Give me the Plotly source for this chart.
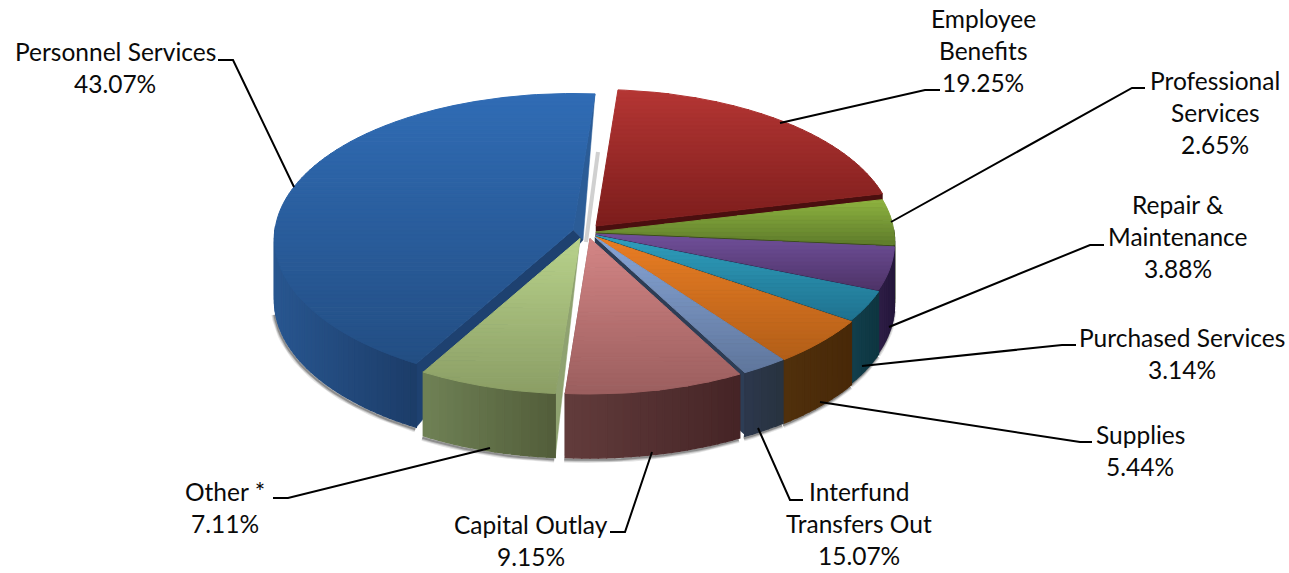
import math
import plotly.graph_objects as go

# --- data ---
categories = ["Employee Benefits", "Professional Services", "Repair & Maintenance",
              "Purchased Services", "Supplies", "Interfund Transfers Out",
              "Capital Outlay", "Other *", "Personnel Services"]
slice_share = [20.14, 5.00, 4.72, 3.33, 5.28, 2.36, 9.17, 7.08, 42.92]
printed_pct = ["19.25%", "2.65%", "3.88%", "3.14%", "5.44%", "15.07%", "9.15%", "7.11%", "43.07%"]

# --- styling and layout ---
top_light = ["#b53634", "#8eb340", "#70509a", "#2f9fbd", "#ea7e24", "#87a5d6", "#d48686", "#b8d28b", "#306cb5"]
top_dark = ["#7c1d1c", "#5f7c2b", "#4e3368", "#1f7290", "#b25e18", "#5f769c", "#9b5e5e", "#8b9e65", "#234e83"]
wall_left = ["#5a1514", "#3d4f1c", "#2e1e46", "#123f4c", "#50300c", "#2c384c", "#623c3c", "#6f8155", "#28568f"]
wall_right = ["#4a0f0f", "#33421a", "#24163a", "#0e3540", "#482808", "#28323f", "#452426", "#525d3a", "#1c3c68"]
cut_color = ["#4a0f0f", "#3b4d1c", "#2e1e46", "#123f4c", "#5a3008", "#2d3d55", "#5a3636", "#8fa270", "#2b5c97"]
centers = [(596, 226), (596, 232), (596, 234), (596, 235.5), (596, 237),
           (595, 237), (590, 238.5), (580, 238.5), (573, 230)]
START = 4.5
R = 298
DEPTH = 62
draw_order = [0, 1, 2, 3, 4, 5, 8, 6, 7]

label_lines = [["Employee", "Benefits"], ["Professional", "Services"], ["Repair &", "Maintenance"],
               ["Purchased Services"], ["Supplies"], ["Interfund", "Transfers Out"],
               ["Capital Outlay"], ["Other *"], ["Personnel Services"]]
label_x = [983, 1215, 1178, 1182, 1140, 859, 531, 225, 115]
label_y0 = [18, 80, 204, 337, 434, 491, 524, 491, 51]
LINE = 32
leaders = [[(780, 123), (925, 90), (940, 90)],
           [(891, 222), (1132, 88), (1145, 88)],
           [(889, 327), (1090, 245), (1104, 245)],
           [(862, 366), (1062, 345), (1076, 345)],
           [(820, 402), (1080, 442), (1092, 442)],
           [(758, 428), (790, 500), (803, 500)],
           [(652, 452), (625, 532), (610, 532)],
           [(490, 448), (288, 498), (273, 498)],
           [(294, 187), (233, 60), (218, 60)]]


def pt(c, deg, r=R):
    t = math.radians(deg)
    co = math.cos(t)
    return (c[0] + r * math.sin(t) * (1 - 0.06 * co), c[1] - co * (146 - 9.5 * co))


def depth(deg):
    return DEPTH - 2 * math.cos(math.radians(deg))


def hex_mix(a, b, f):
    f = max(0, min(1, f))
    ca = [int(a[i:i + 2], 16) for i in (1, 3, 5)]
    cb = [int(b[i:i + 2], 16) for i in (1, 3, 5)]
    return "#%02x%02x%02x" % tuple(round(x + (y - x) * f) for x, y in zip(ca, cb))


def clip(poly, y, keep_below):
    out = []
    for i in range(len(poly)):
        p, q = poly[i], poly[(i + 1) % len(poly)]
        pin = (p[1] >= y) == keep_below
        qin = (q[1] >= y) == keep_below
        if pin:
            out.append(p)
        if pin != qin:
            f = (y - p[1]) / (q[1] - p[1])
            out.append((p[0] + (q[0] - p[0]) * f, y))
    return out


fig = go.Figure()


def add_poly(points, color, width=1.4):
    xs = [p[0] for p in points] + [points[0][0]]
    ys = [p[1] for p in points] + [points[0][1]]
    fig.add_trace(go.Scatter(x=xs, y=ys, mode="lines", fill="toself", fillcolor=color,
                             line=dict(color=color, width=width),
                             hoverinfo="skip", showlegend=False))


# angle span of each slice
spans = []
a = START
for v in slice_share:
    spans.append((a, a + v * 3.6))
    a += v * 3.6

# soft shadow under the front rim
for width, op in ((6, 0.10), (4, 0.16), (2, 0.25)):
    for i in (5, 4, 3, 2, 6, 7, 8):
        s, e = spans[i]
        s2, e2 = max(s, 90), min(e, 262)
        n = max(2, int((e2 - s2) / 2))
        arc = [pt(centers[i], s2 + (e2 - s2) * k / n) for k in range(n + 1)]
        fig.add_trace(go.Scatter(x=[p[0] - 1 for p in arc],
                                 y=[p[1] + depth(s2 + (e2 - s2) * k / n) + 2 for k, p in enumerate(arc)],
                                 mode="lines", line=dict(color="#000000", width=width), opacity=op,
                                 hoverinfo="skip", showlegend=False))

for i in draw_order:
    s, e = spans[i]
    c = centers[i]
    n = max(4, int((e - s) / 1.5))
    angs = [s + (e - s) * k / n for k in range(n + 1)]
    rim = [pt(c, x) for x in angs]

    # cut faces
    if i == 8:
        # rear face and front face of the big exploded slice
        back = pt(c, e)
        inner = (c[0] + 10, c[1] + 10)
        shade_end = (inner[0] + 3, inner[1] + 2)
        fig.add_trace(go.Scatter(x=[back[0] + 3, shade_end[0]], y=[back[1] + 58, shade_end[1]],
                                 mode="lines", line=dict(color="#000000", width=4), opacity=0.18,
                                 hoverinfo="skip", showlegend=False))
        add_poly([back, c, inner], cut_color[i], 0.5)
        f = pt(c, s)
        fb = (f[0], f[1] + depth(s))
        add_poly([c, f, fb, (f[0] + 10, fb[1] - 12), inner], "#1e4170", 0.5)
    elif i == 7:
        f = pt(c, s)
        add_poly([c, f, (f[0], f[1] + depth(s)), (f[0] + 7, f[1] + 1)], cut_color[i], 0.5)
    else:
        f = pt(c, e)
        add_poly([c, f, (f[0], f[1] + DEPTH), (c[0], c[1] + DEPTH)], cut_color[i], 0.5)

    # outer wall: horizontal gradient in narrow steps
    xmin = min(p[0] for p in rim)
    xmax = max(p[0] for p in rim)
    for k in range(n):
        if angs[k + 1] < 90 or angs[k] > 270:
            continue
        p, q = rim[k], rim[k + 1]
        col = hex_mix(wall_left[i], wall_right[i], ((p[0] + q[0]) / 2 - xmin) / max(1, xmax - xmin))
        if i == 8:
            col = hex_mix(wall_left[i], wall_right[i], ((p[0] + q[0]) / 2 - 276) / 140)
        add_poly([p, q, (q[0], q[1] + depth(angs[k + 1])), (p[0], p[1] + depth(angs[k]))], col)

    # top: vertical gradient in narrow bands
    shape = [c] + rim
    ymin = min(p[1] for p in shape)
    ymax = max(p[1] for p in shape)
    bands = max(6, int((ymax - ymin) / 4))
    for b in range(bands):
        y0 = ymin + (ymax - ymin) * b / bands
        y1 = ymin + (ymax - ymin) * (b + 1) / bands
        part = clip(clip(shape, y0, True), y1, False)
        if len(part) >= 3:
            add_poly(part, hex_mix(top_light[i], top_dark[i], (b + 0.5) / bands), 1.0)

# leader lines
for path in leaders:
    fig.add_trace(go.Scatter(x=[p[0] for p in path], y=[p[1] for p in path], mode="lines",
                             line=dict(color="#000000", width=2), hoverinfo="skip", showlegend=False))

# labels
font = dict(family="Lato", size=24.5, color="#0a0a0a")
for i, lines in enumerate(label_lines):
    for j, text in enumerate(list(lines) + [printed_pct[i]]):
        fig.add_annotation(x=label_x[i], y=label_y0[i] + j * LINE, text=text, showarrow=False,
                           xanchor="center", yanchor="middle", font=font)

fig.update_layout(width=1289, height=573, margin=dict(l=0, r=0, t=0, b=0),
                  paper_bgcolor="white", plot_bgcolor="white", showlegend=False,
                  xaxis=dict(range=[0, 1289], visible=False, fixedrange=True),
                  yaxis=dict(range=[573, 0], visible=False, fixedrange=True))
fig.write_html("out.html", config={"displayModeBar": False},
               post_script="document.body.style.margin='0';")
